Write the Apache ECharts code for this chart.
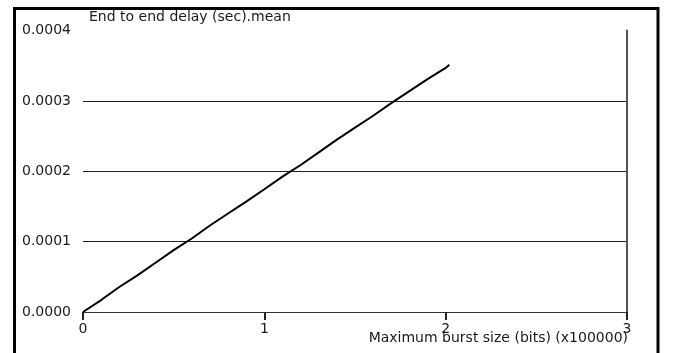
<!DOCTYPE html>
<html>
<head>
<meta charset="utf-8">
<script src="https://cdn.jsdelivr.net/npm/echarts@6/dist/echarts.min.js"></script>
<style>
  html, body { margin: 0; padding: 0; background: #fff; }
  #chart { width: 680px; height: 353px; }
</style>
</head>
<body>
<div id="chart"></div>
<script>
// Maximum burst size, in units of 100000 bits
var burstSize = [0, 0.1, 0.2, 0.3, 0.4, 0.5, 0.6, 0.7, 0.8, 0.9, 1.0,
                 1.1, 1.2, 1.3, 1.4, 1.5, 1.6, 1.7, 1.8, 1.9, 2.0, 2.02];
// Mean end-to-end delay in seconds
var meanDelay = [0.0000000, 0.0000170, 0.0000355, 0.0000520, 0.0000700, 0.0000880,
                 0.0001045, 0.0001230, 0.0001400, 0.0001570, 0.0001745, 0.0001925,
                 0.0002090, 0.0002270, 0.0002450, 0.0002620, 0.0002790, 0.0002970,
                 0.0003140, 0.0003310, 0.0003470, 0.0003515];
var yTicks = ['0.0000', '0.0001', '0.0002', '0.0003', '0.0004'];
var xTicks = ['0', '1', '2', '3'];

var points = burstSize.map(function (x, i) { return [x, meanDelay[i]]; });
var FONT = 'DejaVu Sans, Verdana, sans-serif';
var TEXT = '#1a1a1a';

var chart = echarts.init(document.getElementById('chart'));
chart.setOption({
  animation: false,
  backgroundColor: '#ffffff',
  grid: { left: 83, right: 53, top: 30.6, bottom: 41 },
  graphic: [
    {
      type: 'rect',
      shape: { x: 14.5, y: 8.5, width: 643.5, height: 360 },
      style: { fill: 'none', stroke: '#000', lineWidth: 3 },
      silent: true
    },
    {
      type: 'text',
      left: 89, top: 10,
      style: { text: 'End to end delay (sec).mean', font: '14px ' + FONT, fill: TEXT }
    },
    {
      type: 'text',
      right: 52, top: 331,
      style: { text: 'Maximum burst size (bits) (x100000)', font: '14px ' + FONT, fill: TEXT, textAlign: 'right' }
    }
  ],
  xAxis: {
    type: 'value', min: 0, max: 3, interval: 1,
    axisLine: { show: true, lineStyle: { color: '#333', width: 1 } },
    axisTick: { show: true, inside: false, length: 8, lineStyle: { color: '#222', width: 2 } },
    axisLabel: {
      margin: 10, color: TEXT, fontFamily: FONT, fontSize: 14,
      formatter: function (v) { return xTicks[Math.round(v)]; }
    },
    splitLine: { show: false }
  },
  yAxis: [
    {
      type: 'value', min: 0, max: 0.0004, interval: 0.0001,
      axisLine: { show: false }, axisTick: { show: false },
      axisLabel: {
        align: 'left', margin: 61, color: TEXT, fontFamily: FONT, fontSize: 14,
        padding: [0, 0, 6, 0],
        formatter: function (v) { return yTicks[Math.round(v / 0.0001)]; }
      },
      splitLine: {
        show: true,
        lineStyle: { color: '#222', width: 1 },
        showMaxLine: false
      }
    },
    {
      type: 'value', min: 0, max: 0.0004, interval: 0.0001, position: 'right',
      axisLine: { show: true, lineStyle: { color: '#555', width: 2 } },
      axisTick: { show: false }, axisLabel: { show: false }, splitLine: { show: false }
    }
  ],
  series: [{
    type: 'line',
    data: points,
    showSymbol: false,
    lineStyle: { color: '#000', width: 2 },
    silent: true
  }]
});
</script>
</body>
</html>
